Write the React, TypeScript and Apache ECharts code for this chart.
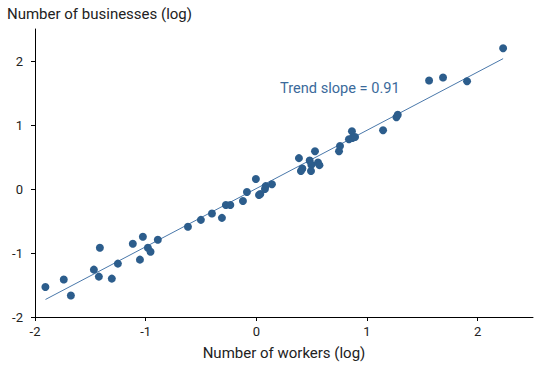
import React, { useEffect, useRef } from "react";
import * as echarts from "echarts";

const workersLog: number[] = [
  -1.906, -1.74, -1.676, -1.414, -1.468, -1.423, -1.306, -1.251, -1.116, -1.052,
  -1.025, -0.98, -0.956, -0.89, -0.618, -0.501, -0.401, -0.311, -0.275, -0.235,
  -0.121, -0.085, -0.004, 0.024, 0.036, 0.078, 0.084, 0.141, 0.385, 0.416,
  0.403, 0.482, 0.497, 0.494, 0.53, 0.557, 0.57, 0.747, 0.756, 0.837,
  0.864, 0.868, 0.892, 1.145, 1.266, 1.278, 1.561, 1.687, 1.904, 2.23,
];
const businessesLog: number[] = [
  -1.53, -1.415, -1.664, -0.918, -1.26, -1.369, -1.4, -1.166, -0.855, -1.104,
  -0.747, -0.918, -0.98, -0.793, -0.591, -0.482, -0.384, -0.451, -0.249, -0.249,
  -0.187, -0.047, 0.156, -0.093, -0.078, 0.0, 0.045, 0.075, 0.482, 0.32,
  0.28, 0.445, 0.378, 0.28, 0.591, 0.414, 0.373, 0.591, 0.673, 0.778,
  0.902, 0.798, 0.813, 0.918, 1.12, 1.16, 1.695, 1.742, 1.684, 2.198,
];
const trendX: number[] = [-1.905, 2.23];
const trendY: number[] = [-1.726, 2.037];
const trendLabel = "Trend slope = 0.91";
const yTitle = "Number of businesses (log)";
const xTitle = "Number of workers (log)";

export default function App() {
  const ref = useRef<HTMLDivElement>(null);
  useEffect(() => {
    if (!ref.current) return;
    const chart = echarts.init(ref.current, null, { renderer: "svg" });
    const font = "Roboto, 'Noto Sans', sans-serif";
    chart.setOption({
      animation: false,
      textStyle: { fontFamily: font },
      grid: { left: 35, right: 17, top: 29, bottom: 47, containLabel: false },
      title: {
        text: yTitle,
        left: 7,
        top: 6,
        padding: 0,
        textStyle: { fontFamily: font, fontSize: 15, fontWeight: "normal", color: "#222" },
      },
      xAxis: {
        type: "value",
        min: -2,
        max: 2.5,
        interval: 1,
        name: xTitle,
        nameLocation: "middle",
        nameGap: 28,
        nameTextStyle: { fontFamily: font, fontSize: 15, color: "#222" },
        axisLine: { show: true, onZero: false, lineStyle: { color: "#000", width: 1 } },
        axisTick: { show: true, length: 4, lineStyle: { color: "#000" } },
        axisLabel: {
          fontFamily: font,
          fontSize: 13,
          color: "#222",
          margin: 8,
          showMaxLabel: false,
          formatter: (v: number) => (v < 0 ? "-" + Math.abs(v) : String(v)),
        },
        splitLine: { show: false },
      },
      yAxis: {
        type: "value",
        min: -2,
        max: 2.5,
        interval: 1,
        axisLine: { show: true, onZero: false, lineStyle: { color: "#000", width: 1 } },
        axisTick: { show: true, length: 4, lineStyle: { color: "#000" } },
        axisLabel: {
          fontFamily: font,
          fontSize: 13,
          color: "#222",
          margin: 12,
          showMaxLabel: false,
          formatter: (v: number) => (v < 0 ? "-" + Math.abs(v) : String(v)),
        },
        splitLine: { show: false },
      },
      graphic: [
        {
          type: "text",
          left: 280,
          top: 80,
          style: {
            text: trendLabel,
            fontFamily: font,
            fontSize: 14.6,
            fill: "#3b6a9b",
          },
        },
      ],
      series: [
        {
          type: "line",
          data: trendX.map((x, i) => [x, trendY[i]]),
          symbol: "none",
          lineStyle: { color: "#4a78aa", width: 1 },
          silent: true,
          z: 1,
        },
        {
          type: "scatter",
          data: workersLog.map((x, i) => [x, businessesLog[i]]),
          symbolSize: 8,
          itemStyle: { color: "#2c5d8c", opacity: 1 },
          z: 2,
        },
      ],
    });
    return () => chart.dispose();
  }, []);
  return <div ref={ref} style={{ width: 550, height: 365, position: "absolute", left: 0, top: 0 }} />;
}
